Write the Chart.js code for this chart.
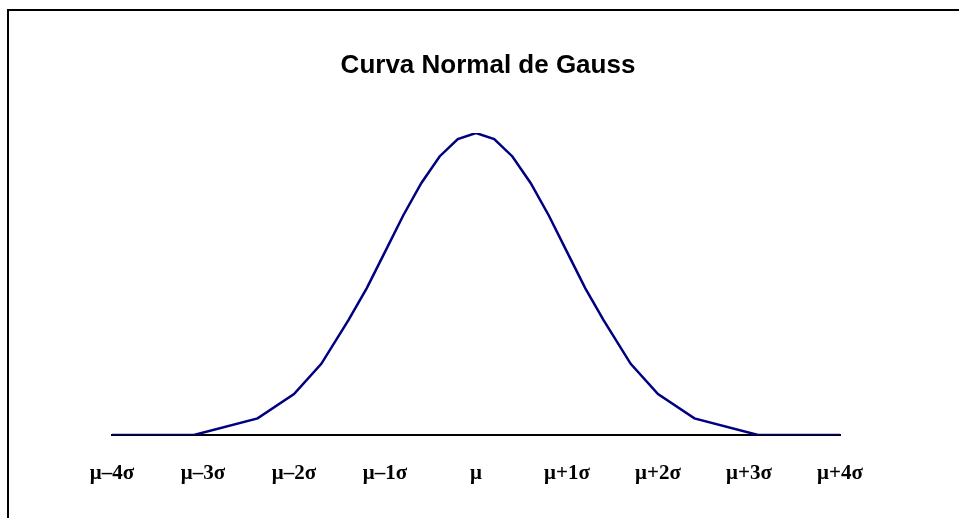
<!DOCTYPE html>
<html>
<head>
<meta charset="utf-8">
<script src="https://cdn.jsdelivr.net/npm/chart.js@4"></script>
<style>
  html, body { margin:0; padding:0; background:#fff; }
  #wrap { position:relative; width:959px; height:518px; }
</style>
</head>
<body>
<div id="wrap"><canvas id="gauss" width="959" height="518"></canvas></div>
<script>
// ── data ──
const TITLE = 'Curva Normal de Gauss';
const sigmaX  = [-4, -3.1, -2.4, -2, -1.7, -1.4, -1.2, -1, -0.8, -0.6, -0.4, -0.2, 0, 0.2, 0.4, 0.6, 0.8, 1, 1.2, 1.4, 1.7, 2, 2.4, 3.1, 4];
const density = [0, 0, 0.022, 0.054, 0.094, 0.152, 0.194, 0.242, 0.290, 0.333, 0.368, 0.391, 0.399, 0.391, 0.368, 0.333, 0.290, 0.242, 0.194, 0.152, 0.094, 0.054, 0.022, 0, 0];
const tickVals   = [-4, -3, -2, -1, 0, 1, 2, 3, 4];
const tickLabels = ['μ–4σ', 'μ–3σ', 'μ–2σ', 'μ–1σ', 'μ', 'μ+1σ', 'μ+2σ', 'μ+3σ', 'μ+4σ'];

// frame + title, drawn on the canvas
const frame = {
  id:'frame',
  beforeDraw(c) {
    const ctx = c.ctx;
    ctx.save();
    ctx.fillStyle = '#fff'; ctx.fillRect(0, 0, c.width, c.height);
    ctx.strokeStyle = '#000'; ctx.lineWidth = 2;
    ctx.beginPath(); ctx.moveTo(8, 518); ctx.lineTo(8, 10); ctx.lineTo(959, 10); ctx.stroke();
    ctx.fillStyle = '#000'; ctx.font = 'bold 26px "Liberation Sans", Arial, sans-serif';
    ctx.textAlign = 'center'; ctx.textBaseline = 'alphabetic';
    ctx.fillText(TITLE, 488, 73);
    ctx.restore();
  }
};

new Chart(document.getElementById('gauss'), {
  type:'line',
  data:{ datasets:[{
    data: sigmaX.map((x,i)=>({x, y:density[i]})),
    borderColor:'#000080', borderWidth:2.5, pointRadius:0, tension:0, fill:false
  }]},
  options:{
    responsive:false, animation:false,
    layout:{ padding:{ top:133, left:112, right:119, bottom:0 } },
    plugins:{ legend:{display:false}, tooltip:{enabled:false}, title:{display:false} },
    scales:{
      x:{
        type:'linear', min:-4, max:4,
        afterBuildTicks: s => { s.ticks = tickVals.map(v=>({value:v})); },
        afterFit: s => { s.height = 83; },
        grid:{ display:false, drawTicks:false },
        border:{ display:true, color:'#000', width:2 },
        ticks:{ padding:26, color:'#000', maxRotation:0, autoSkip:false,
                font:{ family:'"Liberation Serif", "Times New Roman", serif', size:21, weight:'bold' },
                callback: v => tickLabels[tickVals.indexOf(v)] ?? '' }
      },
      y:{ display:false, min:0, max:0.399 }
    }
  },
  plugins:[frame]
});
</script>
</body>
</html>
